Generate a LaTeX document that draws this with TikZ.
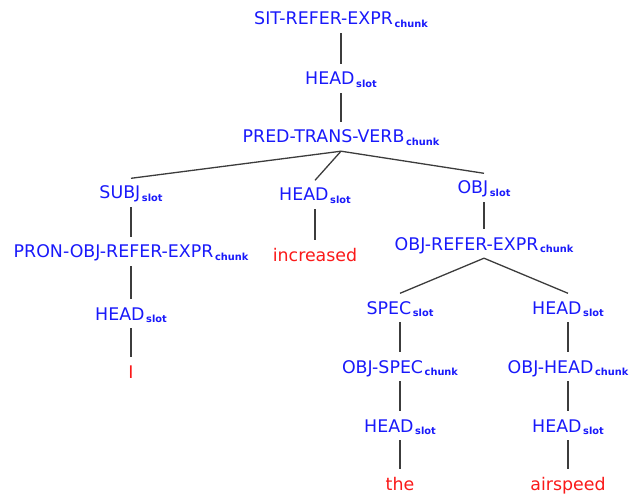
\documentclass[tikz,border=0pt]{standalone}
\usepackage{fontspec}
\setmainfont{DejaVu Sans}
\usepackage{tikz}
\definecolor{labblue}{RGB}{25,25,250}
\definecolor{wordred}{RGB}{250,25,25}
\definecolor{edgegray}{RGB}{60,60,60}
\def\sublab#1#2{#1\kern1.6pt\raisebox{-2.5pt}{\fontsize{9.8}{9.8}\selectfont\bfseries #2}}

\begin{document}
\begin{tikzpicture}[x=1pt, y=-1pt,
		cat/.style={anchor=base, inner xsep=0pt, inner ysep=8pt, text height=12.5pt, text depth=0pt,
			font=\fontsize{17.4}{17.4}\selectfont, text=labblue},
		word/.style={cat, text=wordred},
		edge/.style={draw=edgegray, line width=1.3pt}]
			%%%%% START %%%%%
			\useasboundingbox (0, 0) rectangle (631, 494);
			
			\node[cat] (sit) at (341, 25) {\sublab{SIT-REFER-EXPR}{chunk}};
			\node[cat] (headtop) at (341, 85) {\sublab{HEAD}{slot}};
			\node[cat] (pred) at (341, 143) {\sublab{PRED-TRANS-VERB}{chunk}};
			
			\node[cat] (subj) at (131, 199) {\sublab{SUBJ}{slot}};
			\node[cat] (headverb) at (315, 201) {\sublab{HEAD}{slot}};
			\node[cat] (obj) at (484, 194) {\sublab{OBJ}{slot}};
			
			\node[cat] (pron) at (131, 258) {\sublab{PRON-OBJ-REFER-EXPR}{chunk}};
			\node[word] (increased) at (315, 261) {increased};
			\node[cat] (objref) at (484, 250) {\sublab{OBJ-REFER-EXPR}{chunk}};
			
			\node[cat] (headpron) at (131, 320) {\sublab{HEAD}{slot}};
			\node[cat] (spec) at (400, 314) {\sublab{SPEC}{slot}};
			\node[cat] (headobj) at (568, 314) {\sublab{HEAD}{slot}};
			
			\node[word] (wordI) at (131, 378) {I};
			\node[cat] (objspec) at (400, 373) {\sublab{OBJ-SPEC}{chunk}};
			\node[cat] (objhead) at (568, 373) {\sublab{OBJ-HEAD}{chunk}};
			
			\node[cat] (headspec) at (400, 432) {\sublab{HEAD}{slot}};
			\node[cat] (headnoun) at (568, 432) {\sublab{HEAD}{slot}};
			
			\node[word] (the) at (400, 490) {the};
			\node[word] (airspeed) at (568, 490) {airspeed};
			
			% spine
			\draw[edge] (sit.south) -- (headtop.north);
			\draw[edge] (headtop.south) -- (pred.north);
			\draw[edge] (pred.south) -- (subj.north);
			\draw[edge] (pred.south) -- (headverb.north);
			\draw[edge] (pred.south) -- (obj.north);
			
			% subject
			\draw[edge] (subj.south) -- (pron.north);
			\draw[edge] (pron.south) -- (headpron.north);
			\draw[edge] (headpron.south) -- (wordI.north);
			
			% verb
			\draw[edge] (headverb.south) -- (increased.north);
			
			% object
			\draw[edge] (obj.south) -- (objref.north);
			\draw[edge] (objref.south) -- (spec.north);
			\draw[edge] (objref.south) -- (headobj.north);
			\draw[edge] (spec.south) -- (objspec.north);
			\draw[edge] (objspec.south) -- (headspec.north);
			\draw[edge] (headspec.south) -- (the.north);
			\draw[edge] (headobj.south) -- (objhead.north);
			\draw[edge] (objhead.south) -- (headnoun.north);
			\draw[edge] (headnoun.south) -- (airspeed.north);
			
			%%%%% END %%%%%
		\end{tikzpicture}
\end{document}
